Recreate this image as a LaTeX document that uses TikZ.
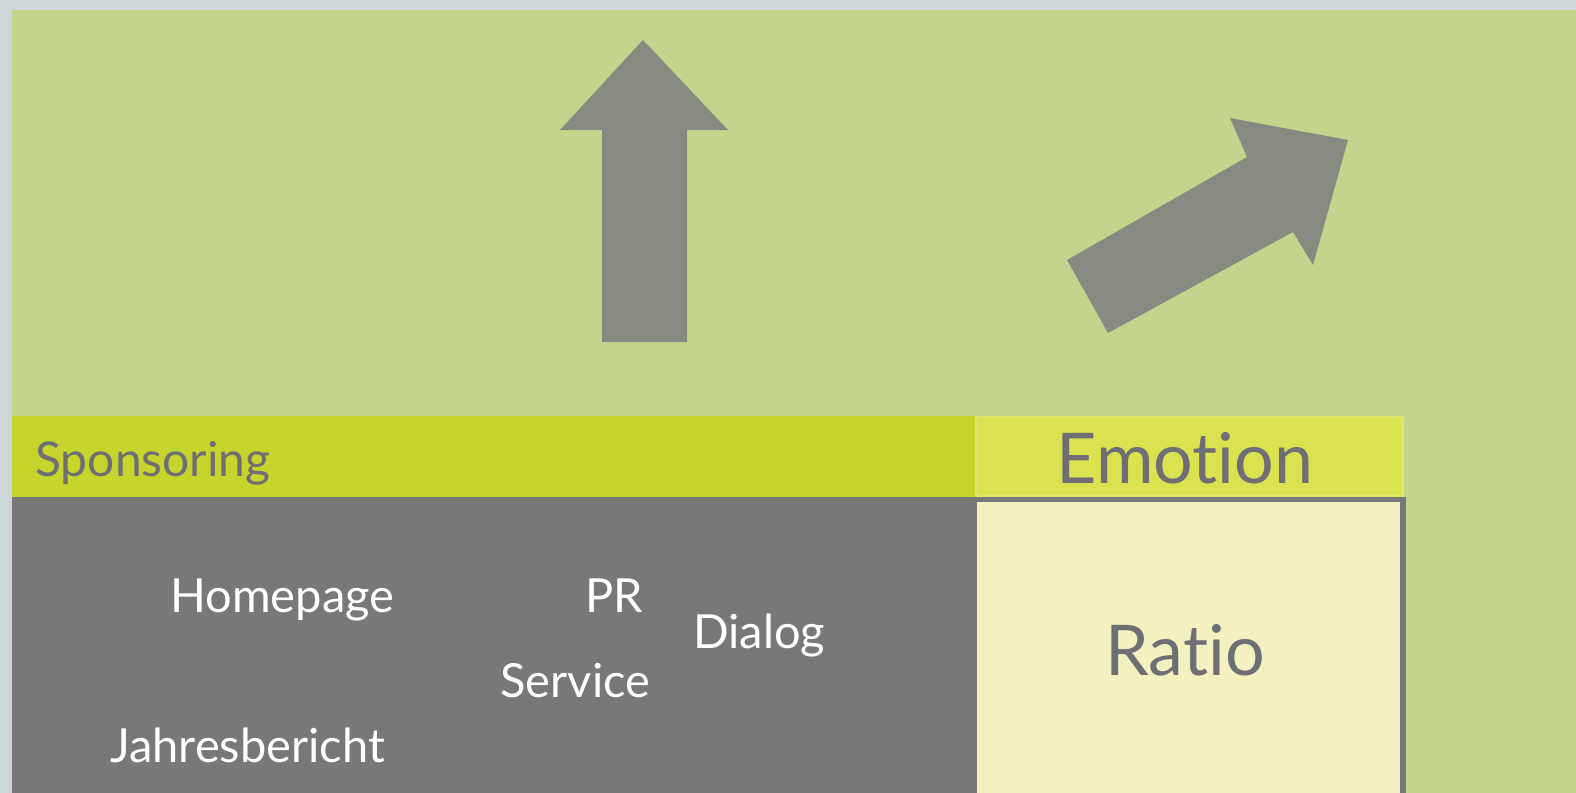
\documentclass[tikz,border=0pt]{standalone}
\usepackage{fontspec}
\setmainfont{Lato}[Ligatures={NoCommon,NoRequired}]
\definecolor{outerbg}{HTML}{CED7D8}
\definecolor{greenbg}{HTML}{C5D48D}
\definecolor{barlime}{HTML}{C5D52B}
\definecolor{emolime}{HTML}{DBE250}
\definecolor{boxgray}{HTML}{787878}
\definecolor{ratiofill}{HTML}{F2F1BF}
\definecolor{arrowgray}{HTML}{868A80}
\definecolor{labelgray}{HTML}{6E6E74}
\tikzset{
  bigarrow/.style={fill=arrowgray, draw=none},
  whitelbl/.style={text=white, font=\fontsize{23.5}{27}\selectfont, inner sep=0pt},
  headlbl/.style={text=labelgray, inner sep=0pt},
}
\begin{document}
\begin{tikzpicture}[x=0.5pt,y=-0.5pt]
\useasboundingbox (0,0) rectangle (1576,793);
% background
\fill[outerbg] (0,0) rectangle (1576,793);
\fill[greenbg] (12,10) rectangle (1576,793);
% bars
\fill[barlime] (12,416) rectangle (975,497);
\fill[emolime!85!white] (975,416) rectangle (1404,497);
\fill[emolime] (977,418) rectangle (1401,495);
\fill[boxgray] (12,497) rectangle (1406,793);
\fill[ratiofill] (977,502) rectangle (1400,793);
% up arrow
\fill[bigarrow] (643,40) -- (728,130) -- (687,130) -- (687,342) -- (602,342) -- (602,130) -- (560,130) -- cycle;
% diagonal arrow
\fill[bigarrow] (1348,140) -- (1313,265) -- (1293,232) -- (1108,333) -- (1067,260) -- (1247,157) -- (1230,118) -- cycle;
% labels
\node[headlbl, anchor=base west, font=\fontsize{24}{28}\selectfont] (spons) at (35,476) {Sponsoring};
\node[headlbl, anchor=base, font=\fontsize{35}{40}\selectfont] (emo) at (1185,483) {Emotion};
\node[headlbl, anchor=base, font=\fontsize{35}{40}\selectfont] (ratio) at (1185,675) {Ratio};
\node[whitelbl, anchor=base west] (home) at (170,612) {Homepage};
\node[whitelbl, anchor=base west] (pr) at (585,612) {PR};
\node[whitelbl, anchor=base west] (dialog) at (693,648) {Dialog};
\node[whitelbl, anchor=base west] (service) at (500,697) {Service};
\node[whitelbl, anchor=base west] (jahr) at (110,762) {Jahresbericht};
\end{tikzpicture}
\end{document}
